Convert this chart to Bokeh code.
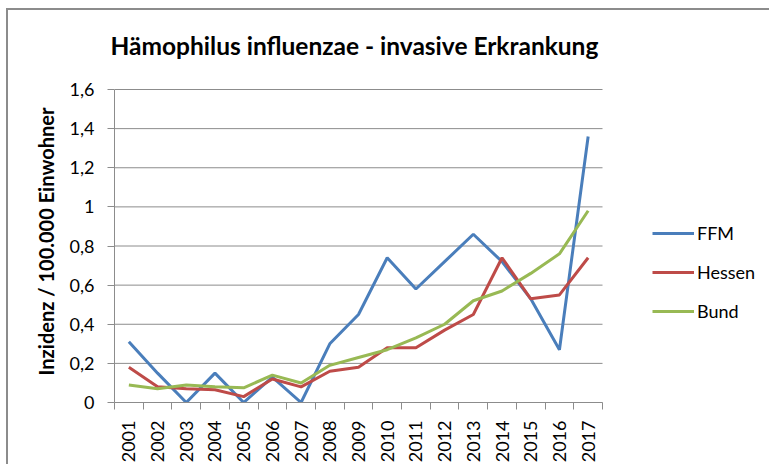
from math import pi
from bokeh.plotting import figure
from bokeh.models import FixedTicker, Legend, LegendItem, Range1d
from bokeh.embed import file_html
from bokeh.resources import INLINE

years = ["2001", "2002", "2003", "2004", "2005", "2006", "2007", "2008", "2009",
         "2010", "2011", "2012", "2013", "2014", "2015", "2016", "2017"]
ffm = [0.31, 0.15, 0.0, 0.15, 0.0, 0.13, 0.0, 0.30, 0.45, 0.74, 0.58, 0.72,
       0.86, 0.72, 0.53, 0.27, 1.36]
hessen = [0.18, 0.08, 0.07, 0.065, 0.03, 0.12, 0.08, 0.16, 0.18, 0.28, 0.28,
          0.37, 0.45, 0.74, 0.53, 0.55, 0.74]
bund = [0.09, 0.07, 0.09, 0.08, 0.075, 0.14, 0.10, 0.19, 0.23, 0.27, 0.33,
        0.40, 0.52, 0.57, 0.66, 0.76, 0.98]
y_ticks = [0, 0.2, 0.4, 0.6, 0.8, 1.0, 1.2, 1.4, 1.6]
y_tick_labels = ["0", "0,2", "0,4", "0,6", "0,8", "1", "1,2", "1,4", "1,6"]
series_names = ["FFM", "Hessen", "Bund"]
series_colors = ["#4a7ebb", "#be4b48", "#98b954"]

xs = list(range(1, len(years) + 1))
FONT = "Lato"
GRAY = "#8c8c8c"

# layout (pixels inside the figure)
W, H = 763, 456
LEFT, BOTTOM = 106, 64
GRID_TOP = 79             # where the 1,6 gridline lies
FRAME_TOP = 70            # frame starts a bit higher, leaving room for the title
DATA_RIGHT = 594          # where the category axis ends
n = len(years)
px_per_cat = (DATA_RIGHT - LEFT) / n
x_start = 0.5
x_end = x_start + (W - LEFT) / px_per_cat   # frame reaches the right edge (room for legend)
y_max = y_ticks[-1]
y_end = y_max * (H - BOTTOM - FRAME_TOP) / (H - BOTTOM - GRID_TOP)

p = figure(width=W, height=H, output_backend="svg", toolbar_location=None,
           x_range=Range1d(x_start, x_end), y_range=Range1d(0, y_end),
           min_border_left=LEFT, min_border_right=0, min_border_top=FRAME_TOP,
           min_border_bottom=BOTTOM)
p.styles = {"margin-top": "8px", "margin-left": "6px",
            "border-top": "2px solid #8c8c8c", "border-left": "2px solid #8c8c8c"}

p.title.text = "Hämophilus influenzae - invasive Erkrankung"
p.title.text_font = FONT
p.title.text_font_size = "24.5px"
p.title.text_font_style = "bold"
p.title.align = "left"
p.title.vertical_align = "top"
p.title.offset = -4
p.title.standoff = 37
p.title.text_color = "#000000"

p.outline_line_color = None
p.background_fill_color = "white"
p.border_fill_color = "white"

# horizontal gridlines limited to the category span
p.segment(x0=[x_start] * len(y_ticks), x1=[n + 0.5] * len(y_ticks), y0=y_ticks, y1=y_ticks,
          line_color=GRAY, line_width=1)

# x axis
p.xaxis.ticker = FixedTicker(ticks=xs, minor_ticks=[x - 0.5 for x in xs] + [xs[-1] + 0.5])
p.xaxis.bounds = (x_start, n + 0.5)
p.xaxis.major_label_overrides = {x: y for x, y in zip(xs, years)}
p.xaxis.major_label_orientation = pi / 2
p.xaxis.major_tick_out = 0
p.xaxis.major_tick_in = 0
p.xaxis.minor_tick_out = 7
p.xaxis.minor_tick_in = 0
p.xaxis.minor_tick_line_color = GRAY
p.xaxis.axis_line_color = GRAY
p.xaxis.major_label_standoff = 11
p.xaxis.major_label_text_font = FONT
p.xaxis.major_label_text_font_size = "18px"
p.xaxis.major_label_text_color = "#000000"
p.xgrid.grid_line_color = None

# y axis
p.yaxis.ticker = FixedTicker(ticks=y_ticks, minor_ticks=[])
p.yaxis.bounds = (0, y_max)
p.yaxis.major_label_overrides = {t: l for t, l in zip(y_ticks, y_tick_labels)}
p.yaxis.major_tick_out = 7
p.yaxis.major_tick_in = 0
p.yaxis.major_tick_line_color = GRAY
p.yaxis.axis_line_color = GRAY
p.yaxis.major_label_standoff = 13
p.yaxis.major_label_text_font = FONT
p.yaxis.major_label_text_font_size = "18px"
p.yaxis.major_label_text_color = "#000000"
p.yaxis.axis_label = "Inzidenz / 100.000 Einwohner"
p.yaxis.axis_label_text_font = FONT
p.yaxis.axis_label_text_font_size = "20px"
p.yaxis.axis_label_text_font_style = "bold"
p.yaxis.axis_label_text_color = "#000000"
p.yaxis.axis_label_standoff = 9
p.ygrid.grid_line_color = None

items = []
for name, vals, col in zip(series_names, [ffm, hessen, bund], series_colors):
    r = p.line(xs, vals, line_color=col, line_width=3)
    items.append(LegendItem(label=name, renderers=[r]))

legend = Legend(items=items, location=(DATA_RIGHT - LEFT + 50, 80), glyph_width=42,
                glyph_height=20, label_height=20, spacing=17, label_standoff=3,
                padding=0, margin=0, border_line_color=None, background_fill_alpha=0,
                label_text_font=FONT, label_text_font_size="18px",
                label_text_color="#000000")
p.add_layout(legend, "center")

open("out.html", "w").write(file_html(p, INLINE))
